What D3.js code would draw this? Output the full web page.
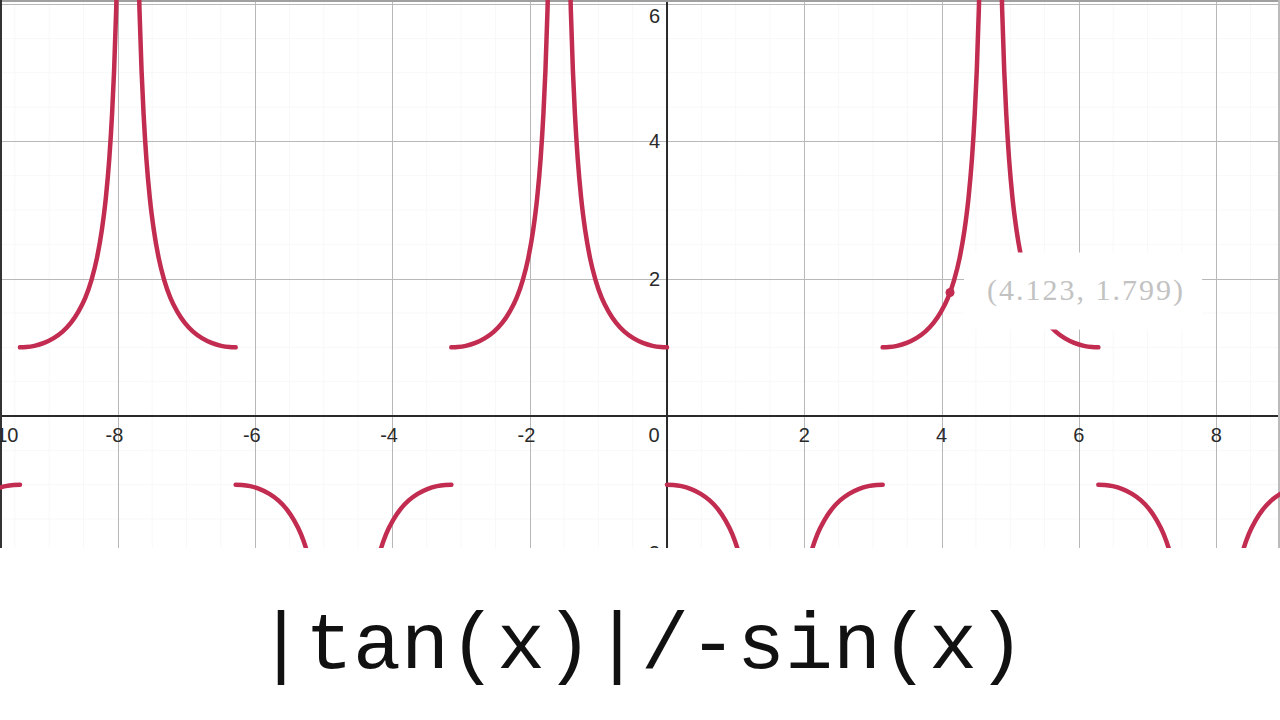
<!DOCTYPE html>
<html>
<head>
<meta charset="utf-8">
<script src="https://cdn.jsdelivr.net/npm/d3@7"></script>
<style>
  html, body { margin: 0; padding: 0; background: #fff; }
  svg { display: block; }
</style>
</head>
<body>
<svg id="chart" width="1280" height="720"></svg>
<script>
// ---- data ----
const X_TICKS = [-10, -8, -6, -4, -2, 0, 2, 4, 6, 8];
const Y_TICKS = [-2, 2, 4, 6];
const MINOR_X = [-9.5,-9,-8.5,-7.5,-7,-6.5,-5.5,-5,-4.5,-3.5,-3,-2.5,-1.5,-1,-0.5,0.5,1,1.5,2.5,3,3.5,4.5,5,5.5,6.5,7,7.5,8.5];
const MINOR_Y = [-1.5,-1,-0.5,0.5,1,1.5,2.5,3,3.5,4.5,5,5.5];
// vertical asymptotes of each branch and its sign (+ above axis, - below)
const ASYMPTOTES = [-10.996, -7.854, -4.712, -1.571, 1.571, 4.712, 7.854];
const SIGNS      = [-1, 1, -1, 1, -1, 1, -1];
// branch profile: distance from asymptote -> |value|
const PROFILE_D = [0.15, 0.17, 0.20, 0.23, 0.27, 0.32, 0.38, 0.45, 0.53, 0.62, 0.72, 0.83, 0.95, 1.08, 1.22, 1.36, 1.48, 1.571];
const PROFILE_Y = [6.69, 5.91, 5.03, 4.39, 3.75, 3.18, 2.70, 2.30, 1.98, 1.72, 1.52, 1.355, 1.229, 1.134, 1.065, 1.022, 1.004, 1.00];
const POINT = [4.123, 1.799];
const POINT_LABEL = "(4.123, 1.799)";
const TITLE = "|tan(x)|/-sin(x)";

// ---- layout ----
const W = 1280, PLOT_H = 548;
const svg = d3.select("#chart");
const x = d3.scaleLinear().domain([-9.716, 8.929]).range([0, W]);
const y = d3.scaleLinear().domain([-1.9228, 6.0597]).range([PLOT_H, 0]);

const defs = svg.append("defs");
defs.append("clipPath").attr("id", "plotclip")
  .append("rect").attr("x", 0).attr("y", 0).attr("width", W).attr("height", PLOT_H);

const g = svg.append("g").attr("clip-path", "url(#plotclip)");

// minor grid (very faint)
g.selectAll("line.mx").data(MINOR_X).join("line")
  .attr("x1", d => x(d)).attr("x2", d => x(d)).attr("y1", 0).attr("y2", PLOT_H)
  .attr("stroke", "#f8f8f8").attr("stroke-width", 1);
g.selectAll("line.my").data(MINOR_Y).join("line")
  .attr("y1", d => y(d)).attr("y2", d => y(d)).attr("x1", 0).attr("x2", W)
  .attr("stroke", "#f8f8f8").attr("stroke-width", 1);

// major grid
g.selectAll("line.gx").data(X_TICKS.filter(d => d !== 0)).join("line")
  .attr("x1", d => Math.round(x(d)) + 0.5).attr("x2", d => Math.round(x(d)) + 0.5)
  .attr("y1", 0).attr("y2", PLOT_H)
  .attr("stroke", "#b8b8b8").attr("stroke-width", 1);
g.selectAll("line.gy").data(Y_TICKS).join("line")
  .attr("y1", d => Math.round(y(d)) + 0.5).attr("y2", d => Math.round(y(d)) + 0.5)
  .attr("x1", 0).attr("x2", W)
  .attr("stroke", "#b8b8b8").attr("stroke-width", 1);

// axes
g.append("line").attr("x1", 0).attr("x2", W).attr("y1", y(0)).attr("y2", y(0))
  .attr("stroke", "#2a2a2a").attr("stroke-width", 2);
g.append("line").attr("x1", x(0)).attr("x2", x(0)).attr("y1", 0).attr("y2", PLOT_H)
  .attr("stroke", "#2a2a2a").attr("stroke-width", 2);

// border of the graph panel
g.append("line").attr("x1", 0).attr("x2", W).attr("y1", 1).attr("y2", 1)
  .attr("stroke", "#a0a0a0").attr("stroke-width", 2);
g.append("line").attr("x1", 1).attr("x2", 1).attr("y1", 0).attr("y2", PLOT_H)
  .attr("stroke", "#333").attr("stroke-width", 2);
g.append("line").attr("x1", W - 1).attr("x2", W - 1).attr("y1", 0).attr("y2", PLOT_H)
  .attr("stroke", "#bbb").attr("stroke-width", 2);

// tick labels
const labelFont = "'Liberation Sans', Arial, sans-serif";
g.selectAll("text.xl").data(X_TICKS).join("text")
  .attr("x", d => {
    if (d === 0) return x(0) - 13;
    const px = x(d) - (d < 0 ? 3.3 : 0);
    return Math.max(px, 4);
  })
  .attr("y", y(0) + 26)
  .attr("text-anchor", "middle")
  .attr("font-family", labelFont).attr("font-size", 20).attr("fill", "#2a2a2a")
  .text(d => d < 0 ? "-" + Math.abs(d) : String(d));
g.selectAll("text.yl").data(Y_TICKS).join("text")
  .attr("x", x(0) - 7)
  .attr("y", d => Math.max(y(d), 16) + 7)
  .attr("text-anchor", "end")
  .attr("font-family", labelFont).attr("font-size", 20).attr("fill", "#2a2a2a")
  .text(d => d < 0 ? "-" + Math.abs(d) : String(d));

// curve branches
const line = d3.line().x(d => x(d[0])).y(d => y(d[1])).curve(d3.curveMonotoneX);
const halves = [];
ASYMPTOTES.forEach((c, i) => {
  const s = SIGNS[i];
  const left = PROFILE_D.map((d, k) => [c - d, s * PROFILE_Y[k]]).reverse();
  const right = PROFILE_D.map((d, k) => [c + d, s * PROFILE_Y[k]]);
  halves.push(left, right);
});
g.selectAll("path.branch").data(halves).join("path")
  .attr("class", "branch")
  .attr("d", line)
  .attr("fill", "none")
  .attr("stroke", "#c22c50")
  .attr("stroke-width", 4.5)
  .attr("stroke-linecap", "round")
  .attr("stroke-linejoin", "round");

// label halo (hides part of curve and grid) + point + label
g.append("rect")
  .attr("x", x(POINT[0]) + 14).attr("y", y(POINT[1]) - 40)
  .attr("width", 238).attr("height", 77)
  .attr("rx", 10)
  .attr("fill", "#fff");
g.append("circle")
  .attr("cx", x(POINT[0])).attr("cy", y(POINT[1])).attr("r", 4.5)
  .attr("fill", "#c22c50");
g.append("text")
  .attr("x", x(POINT[0]) + 37).attr("y", y(POINT[1]) + 8)
  .attr("font-family", "'Liberation Serif', 'Times New Roman', serif")
  .attr("font-size", 30).attr("letter-spacing", 2)
  .attr("fill", "#c2c2c2")
  .text(POINT_LABEL);

// title
svg.append("text")
  .attr("x", 641).attr("y", 668)
  .attr("text-anchor", "middle")
  .attr("font-family", "'Liberation Mono', 'Courier New', monospace")
  .attr("font-size", 80).attr("fill", "#111")
  .text(TITLE);
</script>
</body>
</html>
